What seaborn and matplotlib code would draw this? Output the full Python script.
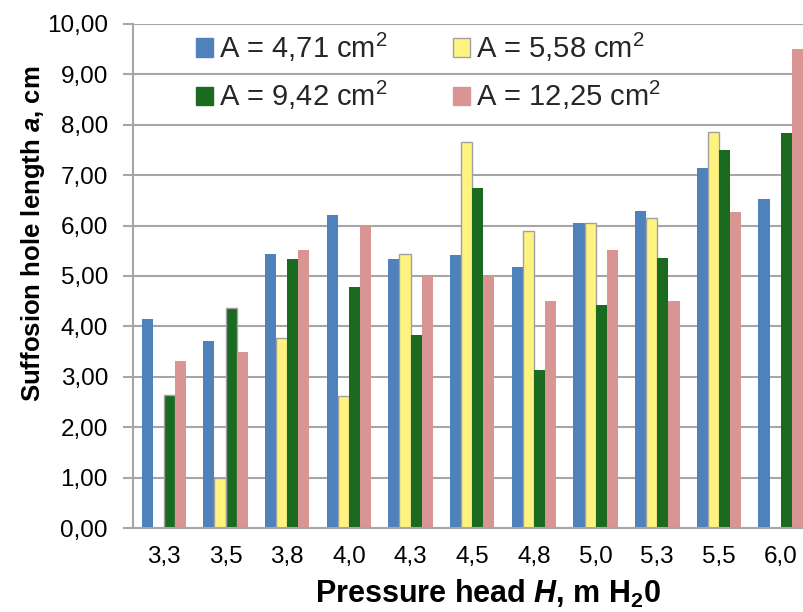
import matplotlib
matplotlib.use("Agg")
import matplotlib.pyplot as plt
from matplotlib.patches import Patch
from matplotlib.ticker import FuncFormatter, MultipleLocator
import numpy as np
import pandas as pd
import seaborn as sns

# Pressure head categories (decimal comma labels)
pressure_head = ["3,3", "3,5", "3,8", "4,0", "4,3", "4,5", "4,8", "5,0", "5,3", "5,5", "6,0"]

# Suffosion hole length a, cm, per cross-section area
a_471 = [4.14, 3.72, 5.44, 6.21, 5.33, 5.42, 5.17, 6.06, 6.28, 7.15, 6.52]
a_558 = [np.nan, 1.00, 3.77, 2.61, 5.43, 7.66, 5.90, 6.06, 6.16, 7.86, np.nan]
a_942 = [2.63, 4.36, 5.33, 4.78, 3.83, 6.74, 3.14, 4.42, 5.35, 7.50, 7.84]
a_1225 = [3.32, 3.50, 5.51, 6.00, 5.00, 5.00, 4.50, 5.51, 4.50, 6.26, 9.50]

series_labels = ["A = 4,71 cm$^{2}$", "A = 5,58 cm$^{2}$",
                 "A = 9,42 cm$^{2}$", "A = 12,25 cm$^{2}$"]
series_values = [a_471, a_558, a_942, a_1225]
colors = ["#4f81bd", "#fff380", "#1a6b1f", "#d99594"]

frames = []
for lab, vals in zip(series_labels, series_values):
    frames.append(pd.DataFrame({"H": pressure_head, "a": vals, "area": lab}))
df = pd.concat(frames, ignore_index=True)

sns.set_theme(style="white")
plt.rcParams["font.family"] = ["Liberation Sans", "DejaVu Sans"]
plt.rcParams["mathtext.fontset"] = "custom"
plt.rcParams["mathtext.rm"] = "Liberation Sans"
plt.rcParams["mathtext.it"] = "Liberation Sans:italic"
plt.rcParams["mathtext.bf"] = "Liberation Sans:bold"
plt.rcParams["mathtext.bfit"] = "Liberation Sans:italic:bold"

fig = plt.figure(figsize=(8.04, 6.12), dpi=100)
ax = fig.add_axes([133 / 804, 84 / 612, (811.5 - 133) / 804, 504 / 612])

sns.barplot(data=df, x="H", y="a", hue="area", order=pressure_head,
            hue_order=series_labels, palette=colors, width=0.72,
            saturation=1, dodge=True, legend=False, ax=ax, linewidth=0)

# thin gray outline on the yellow series
n = len(pressure_head)
for i, patch in enumerate(ax.patches):
    if n <= i < 2 * n:
        patch.set_edgecolor("#a0a0a0")
        patch.set_linewidth(1.0)

ax.set_ylim(0, 10)
ax.set_xlim(-0.5, n - 0.5)
ax.yaxis.set_major_locator(MultipleLocator(1))
ax.yaxis.set_major_formatter(FuncFormatter(lambda v, p: f"{v:.2f}".replace(".", ",")))
ax.grid(axis="y", color="#a6a6a6", linewidth=1.5)
ax.set_axisbelow(True)

for side in ["top", "right"]:
    ax.spines[side].set_visible(False)
for side in ["left", "bottom"]:
    ax.spines[side].set_color("#a6a6a6")
    ax.spines[side].set_linewidth(1.5)

ax.tick_params(axis="y", which="major", left=True, length=7, width=1.5,
               color="#a6a6a6", labelsize=17.5, pad=11, labelcolor="black")
ax.tick_params(axis="x", bottom=False, labelsize=17.5, pad=7, labelcolor="black")

ax.set_ylabel("Suffosion hole length $\\mathbfit{a}$, cm", fontsize=18.5,
              fontweight="bold", color="black")
ax.yaxis.set_label_coords(-0.127, (528 - 234) / 504)
ax.set_xlabel("Pressure head $\\mathbfit{H}$, m H$_{\\mathbf{2}}$0", fontsize=22,
              fontweight="bold", color="black")
ax.xaxis.set_label_coords(0.523, (528 - 578) / 504)

# legend laid out row by row: 4,71 / 5,58 on top, 9,42 / 12,25 below
handles = [Patch(facecolor=c, edgecolor=("#a0a0a0" if i == 1 else c), linewidth=1.0)
           for i, c in enumerate(colors)]
order = [0, 2, 1, 3]
ax.legend([handles[i] for i in order], [series_labels[i] for i in order],
          ncol=2, frameon=False, fontsize=21,
          loc="upper left", bbox_to_anchor=(0.075, 1.01),
          handlelength=0.6, handleheight=0.6, handletextpad=0.2,
          columnspacing=2.23, labelspacing=0.53, borderaxespad=0)

fig.savefig("out.png", dpi=100)
